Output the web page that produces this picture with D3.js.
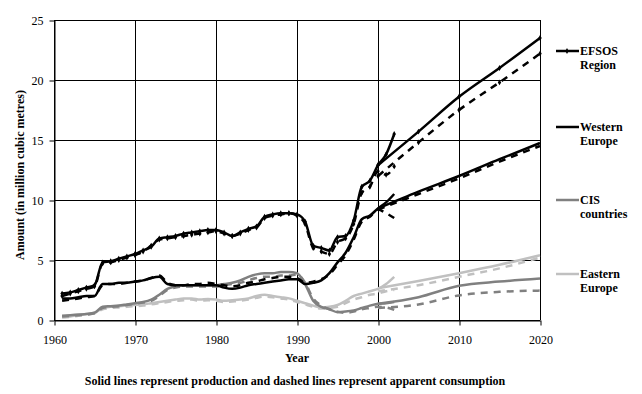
<!DOCTYPE html>
<html>
<head>
<meta charset="utf-8">
<script src="https://cdn.jsdelivr.net/npm/d3@7"></script>
<style>
  body { margin: 0; background: #fff; }
  svg text { font-family: "Liberation Serif", "DejaVu Serif", serif !important; }
</style>
</head>
<body>
<script>
//historical years
var years = [1961, 1962, 1963, 1964, 1965, 1966, 1967, 1968, 1969, 1970,
             1971, 1972, 1973, 1974, 1975, 1976, 1977, 1978, 1979, 1980,
             1981, 1982, 1983, 1984, 1985, 1986, 1987, 1988, 1989, 1990,
             1991, 1992, 1993, 1994, 1995, 1996, 1997, 1998, 1999, 2000,
             2001, 2002];

//production (solid) and apparent consumption (dashed), million m3
var efsosProd = [2.2, 2.3, 2.5, 2.7, 2.9, 4.8, 4.9, 5.1, 5.3, 5.5,
                 5.8, 6.1, 6.8, 6.9, 7.0, 7.2, 7.3, 7.4, 7.5, 7.5,
                 7.3, 7.0, 7.3, 7.6, 7.8, 8.6, 8.8, 8.9, 8.9, 8.8,
                 8.2, 6.2, 6.0, 5.8, 6.9, 7.0, 8.3, 11.1, 11.6, 12.9,
                 13.8, 15.5];
var efsosCons = [2.0, 2.2, 2.4, 2.6, 2.8, 4.7, 4.8, 5.0, 5.2, 5.4,
                 5.7, 6.2, 6.7, 6.8, 6.9, 7.0, 7.1, 7.2, 7.3, 7.4,
                 7.2, 7.0, 7.2, 7.5, 7.7, 8.5, 8.7, 8.8, 8.9, 8.7,
                 8.0, 6.0, 5.7, 5.5, 6.5, 6.8, 8.0, 10.6, 11.1, 12.4,
                 12.1, 12.8];
var westProd = [1.8, 1.8, 1.9, 2.0, 2.0, 3.0, 3.0, 3.1, 3.1, 3.2,
                3.3, 3.5, 3.6, 3.0, 2.9, 2.9, 2.9, 2.9, 2.9, 2.9,
                2.7, 2.6, 2.7, 2.9, 3.0, 3.1, 3.2, 3.3, 3.4, 3.4,
                3.0, 3.1, 3.3, 3.9, 4.8, 5.6, 6.9, 8.4, 8.7, 9.3,
                9.8, 10.5];
var westCons = [1.6, 1.7, 1.8, 1.9, 2.0, 2.9, 3.0, 3.0, 3.1, 3.2,
                3.3, 3.5, 3.7, 3.1, 2.9, 2.9, 3.0, 3.0, 3.1, 3.0,
                2.9, 2.8, 2.9, 3.1, 3.2, 3.4, 3.5, 3.6, 3.6, 3.5,
                3.1, 3.2, 3.4, 3.8, 4.6, 5.4, 6.7, 8.2, 8.6, 9.2,
                8.9, 8.5];
var cisProd = [0.35, 0.4, 0.45, 0.5, 0.6, 1.1, 1.15, 1.2, 1.3, 1.4,
               1.5, 1.7, 2.1, 2.6, 2.8, 2.9, 2.9, 2.9, 2.9, 2.9,
               3.0, 3.1, 3.3, 3.6, 3.8, 3.9, 3.9, 4.0, 4.0, 3.9,
               3.0, 1.6, 1.1, 0.9, 0.65, 0.7, 0.8, 1.0, 1.2, 1.35,
               1.4, 1.5];
var cisCons = [0.3, 0.35, 0.4, 0.45, 0.55, 1.0, 1.1, 1.15, 1.25, 1.35,
               1.45, 1.6, 2.0, 2.5, 2.7, 2.8, 2.8, 2.8, 2.8, 2.8,
               2.9, 3.0, 3.1, 3.3, 3.5, 3.6, 3.6, 3.7, 3.7, 3.8,
               3.1, 1.8, 1.2, 0.9, 0.7, 0.6, 0.7, 0.9, 1.0, 1.1,
               1.05, 0.85];
var eastProd = [0.25, 0.3, 0.4, 0.5, 0.6, 1.0, 1.1, 1.15, 1.2, 1.25,
                1.3, 1.4, 1.5, 1.6, 1.7, 1.8, 1.8, 1.7, 1.75, 1.7,
                1.6, 1.65, 1.7, 1.8, 2.0, 2.1, 2.0, 1.9, 1.8, 1.6,
                1.4, 1.2, 1.05, 1.1, 1.25, 1.6, 2.0, 2.2, 2.4, 2.6,
                3.0, 3.6];
var eastCons = [0.2, 0.25, 0.35, 0.45, 0.55, 0.9, 1.0, 1.05, 1.1, 1.15,
                1.2, 1.3, 1.4, 1.5, 1.6, 1.65, 1.7, 1.6, 1.65, 1.6,
                1.5, 1.55, 1.6, 1.7, 1.85, 1.95, 1.9, 1.8, 1.7, 1.5,
                1.3, 1.1, 0.95, 1.0, 1.1, 1.4, 1.7, 1.9, 2.1, 2.2,
                2.4, 2.5];

//projections 2000-2020
var projYears = [2000, 2005, 2010, 2015, 2020];
var efsosProdProj = [12.9, 15.7, 18.6, 21.0, 23.5];
var efsosConsProj = [12.0, 14.8, 17.5, 19.8, 22.2];
var westProdProj = [9.3, 10.7, 12.0, 13.4, 14.75];
var westConsProj = [9.2, 10.5, 11.8, 13.2, 14.5];
var cisProdProj = [1.35, 1.9, 2.85, 3.2, 3.45];
var cisConsProj = [1.0, 1.3, 2.05, 2.35, 2.45];
var eastProdProj = [2.65, 3.25, 3.9, 4.6, 5.4];
var eastConsProj = [2.4, 2.9, 3.6, 4.3, 5.2];

//axis ticks
var xTicks = [1960, 1970, 1980, 1990, 2000, 2010, 2020];
var yTicks = [0, 5, 10, 15, 20, 25];

//legend
var legendNames = [["EFSOS", "Region"], ["Western", "Europe"], ["CIS", "countries"], ["Eastern", "Europe"]];
var legendColors = ["#000000", "#000000", "#808080", "#c0c0c0"];

var svg = d3.select("body")
  .append("svg")
  .attr("width", 642)
  .attr("height", 394)
  .attr("font-family", "Liberation Serif, serif");

var x = d3.scaleLinear().domain([1960, 2020]).range([54, 540]);
var y = d3.scaleLinear().domain([0, 25]).range([320, 20]);

//gridlines
svg.append("g").selectAll("line")
  .data(xTicks)
  .enter().append("line")
  .attr("x1", function(d) { return Math.round(x(d)) + 0.5; })
  .attr("x2", function(d) { return Math.round(x(d)) + 0.5; })
  .attr("y1", y(25)).attr("y2", y(0))
  .attr("stroke", "#000").attr("stroke-width", 1);

svg.append("g").selectAll("line")
  .data(yTicks)
  .enter().append("line")
  .attr("y1", function(d) { return Math.round(y(d)) + 0.5; })
  .attr("y2", function(d) { return Math.round(y(d)) + 0.5; })
  .attr("x1", x(1960)).attr("x2", x(2020))
  .attr("stroke", "#000").attr("stroke-width", 1);

//axes
var xAxis = svg.append("g")
  .attr("transform", "translate(0.5," + (Math.round(y(0)) + 0.5) + ")")
  .call(d3.axisBottom(x).tickValues(xTicks).tickFormat(d3.format("d")).tickSizeInner(5).tickSizeOuter(0).tickPadding(10));
var yAxis = svg.append("g")
  .attr("transform", "translate(" + (Math.round(x(1960)) + 0.5) + ",0.5)")
  .call(d3.axisLeft(y).tickValues(yTicks).tickSizeInner(5).tickSizeOuter(0).tickPadding(6));
[xAxis, yAxis].forEach(function(a) {
  a.attr("font-family", null).attr("font-size", null);
  a.selectAll("text").style("font-size", "12px").attr("fill", "#000");
  a.selectAll("line").attr("stroke", "#000");
  a.select(".domain").attr("stroke", "#000");
});

var line = d3.line()
  .x(function(d) { return x(d[0]); })
  .y(function(d) { return y(d[1]); })
  .curve(d3.curveMonotoneX);

function pairs(xs, vs) {
  return xs.map(function(v, i) { return [v, vs[i]]; });
}

var series = [
  {h: eastCons, p: eastConsProj, color: "#c0c0c0", dash: true},
  {h: eastProd, p: eastProdProj, color: "#c0c0c0", dash: false},
  {h: cisCons, p: cisConsProj, color: "#808080", dash: true},
  {h: cisProd, p: cisProdProj, color: "#808080", dash: false},
  {h: westCons, p: westConsProj, color: "#000000", dash: true},
  {h: westProd, p: westProdProj, color: "#000000", dash: false},
  {h: efsosCons, p: efsosConsProj, color: "#000000", dash: true, marker: true},
  {h: efsosProd, p: efsosProdProj, color: "#000000", dash: false, marker: true}
];

var diamond = d3.symbol().type(d3.symbolDiamond).size(10);

series.forEach(function(s) {
  [pairs(years, s.h), pairs(projYears, s.p)].forEach(function(pts) {
    svg.append("path")
      .datum(pts)
      .attr("d", line)
      .attr("fill", "none")
      .attr("stroke", s.color)
      .attr("stroke-width", 2.5)
      .attr("stroke-dasharray", s.dash ? "7,6" : null);
    if (s.marker) {
      svg.append("g").selectAll("path")
        .data(pts)
        .enter().append("path")
        .attr("d", diamond)
        .attr("transform", function(d) { return "translate(" + x(d[0]) + "," + y(d[1]) + ")"; })
        .attr("fill", s.color);
    }
  });
});

//legend
var legendY = [51, 127, 200, 274];
legendNames.forEach(function(names, i) {
  var g = svg.append("g");
  g.append("line")
    .attr("x1", 556).attr("x2", 579)
    .attr("y1", legendY[i]).attr("y2", legendY[i])
    .attr("stroke", legendColors[i])
    .attr("stroke-width", 2.5);
  if (i == 0) {
    g.append("path").attr("d", diamond)
      .attr("transform", "translate(567," + legendY[i] + ")");
  }
  g.append("text")
    .attr("x", 580).attr("y", legendY[i] + 4)
    .style("font-size", "12px").style("font-weight", "bold")
    .text(names[0]);
  g.append("text")
    .attr("x", 580).attr("y", legendY[i] + 18)
    .style("font-size", "12px").style("font-weight", "bold")
    .text(names[1]);
});

//axis titles and note
svg.append("text")
  .attr("transform", "translate(24,175) rotate(-90)")
  .style("text-anchor", "middle")
  .style("font-size", "12px").style("font-weight", "bold")
  .text("Amount (in million cubic metres)");

svg.append("text")
  .attr("x", 297).attr("y", 362)
  .style("text-anchor", "middle")
  .style("font-size", "12px").style("font-weight", "bold")
  .text("Year");

svg.append("text")
  .attr("x", 295).attr("y", 385)
  .style("text-anchor", "middle")
  .style("font-size", "12px").style("font-weight", "bold")
  .text("Solid lines represent production and dashed lines represent apparent consumption");
</script>
</body>
</html>
